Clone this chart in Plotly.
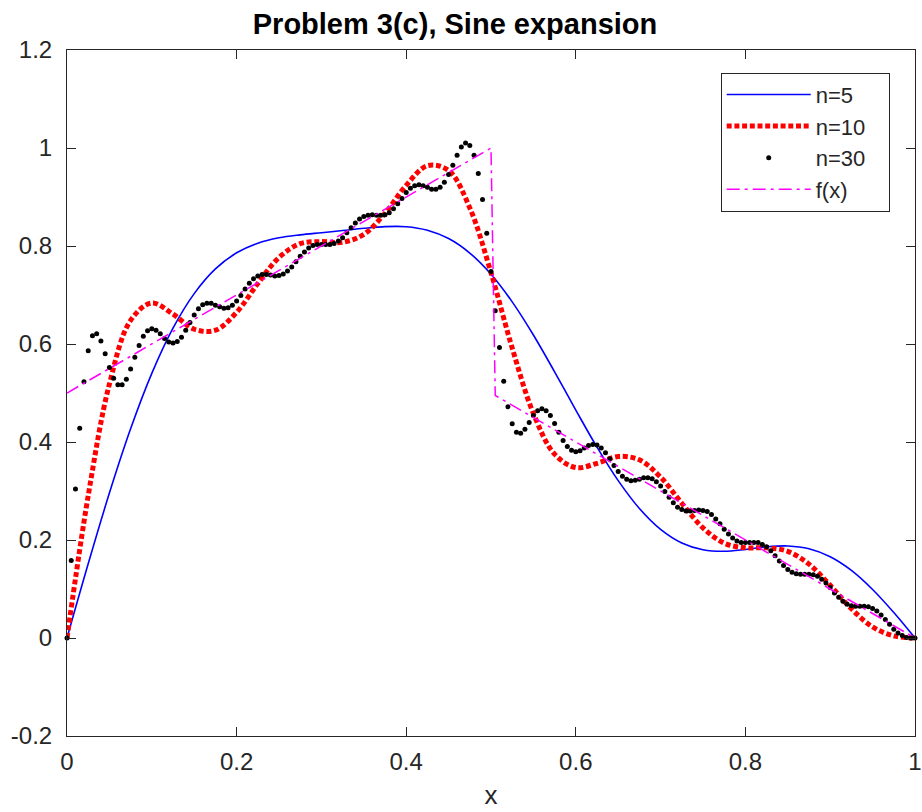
import plotly.graph_objects as go

# ---- data ----
x_lines = [round(i * 0.025, 3) for i in range(41)]
n5 = [0, 0.1515, 0.2958, 0.4269, 0.5400, 0.6323, 0.7028, 0.7532, 0.7861, 0.8058,
      0.8167, 0.8227, 0.8271, 0.8315, 0.8361, 0.8396, 0.8394, 0.8322, 0.8152, 0.7856,
      0.7424, 0.6860, 0.6184, 0.5432, 0.4652, 0.3894, 0.3211, 0.2643, 0.2217, 0.1939,
      0.1801, 0.1770, 0.1807, 0.1860, 0.1878, 0.1821, 0.1658, 0.1379, 0.0990, 0.0519, 0]
n10 = [0, 0.2903, 0.5183, 0.6482, 0.6835, 0.6610, 0.6301, 0.6281, 0.6646, 0.7233,
       0.7766, 0.8048, 0.8089, 0.8076, 0.8236, 0.8667, 0.9238, 0.9638, 0.9541, 0.8778,
       0.7456, 0.5918, 0.4583, 0.3752, 0.3478, 0.3565, 0.3704, 0.3636, 0.3283, 0.2750,
       0.2248, 0.1935, 0.1840, 0.1841, 0.1769, 0.1508, 0.1075, 0.0596, 0.0225, 0.0043, 0]

x_dots = [round(i * 0.005, 3) for i in range(201)]
n30 = [0.000, 0.158, 0.304, 0.428, 0.523, 0.586, 0.617, 0.621, 0.606, 0.580,
       0.552, 0.530, 0.517, 0.517, 0.528, 0.549, 0.573, 0.597, 0.616, 0.627,
       0.631, 0.628, 0.621, 0.611, 0.604, 0.602, 0.605, 0.614, 0.628, 0.644,
       0.659, 0.672, 0.680, 0.683, 0.683, 0.679, 0.676, 0.673, 0.674, 0.679,
       0.688, 0.699, 0.712, 0.724, 0.733, 0.739, 0.742, 0.742, 0.741, 0.739,
       0.740, 0.743, 0.749, 0.757, 0.768, 0.779, 0.788, 0.796, 0.801, 0.803,
       0.803, 0.803, 0.803, 0.805, 0.810, 0.817, 0.827, 0.837, 0.847, 0.855,
       0.860, 0.863, 0.864, 0.863, 0.863, 0.864, 0.868, 0.876, 0.886, 0.897,
       0.909, 0.918, 0.923, 0.925, 0.923, 0.920, 0.916, 0.916, 0.920, 0.930,
       0.946, 0.965, 0.985, 1.002, 1.010, 1.005, 0.985, 0.948, 0.895, 0.826,
       0.748, 0.668, 0.593, 0.524, 0.472, 0.437, 0.420, 0.418, 0.426, 0.440,
       0.454, 0.464, 0.468, 0.464, 0.454, 0.438, 0.420, 0.403, 0.391, 0.383,
       0.380, 0.382, 0.388, 0.393, 0.395, 0.394, 0.388, 0.378, 0.366, 0.352,
       0.340, 0.330, 0.324, 0.321, 0.322, 0.324, 0.327, 0.327, 0.325, 0.319,
       0.310, 0.299, 0.287, 0.276, 0.267, 0.262, 0.259, 0.259, 0.260, 0.261,
       0.260, 0.258, 0.252, 0.243, 0.233, 0.222, 0.212, 0.204, 0.198, 0.195,
       0.195, 0.195, 0.195, 0.195, 0.191, 0.186, 0.178, 0.168, 0.157, 0.148,
       0.140, 0.134, 0.131, 0.130, 0.130, 0.130, 0.129, 0.126, 0.120, 0.112,
       0.103, 0.092, 0.083, 0.075, 0.069, 0.066, 0.065, 0.065, 0.065, 0.064,
       0.060, 0.055, 0.047, 0.038, 0.028, 0.018, 0.010, 0.005, 0.001, 0.000,
       0.000]

f_x = [0.0, 0.5, 0.505, 1.0]
f_y = [0.5, 1.0, 0.495, 0.0]

x_ticks = [0, 0.2, 0.4, 0.6, 0.8, 1]
x_ticktext = ["0", "0.2", "0.4", "0.6", "0.8", "1"]
y_ticks = [-0.2, 0, 0.2, 0.4, 0.6, 0.8, 1, 1.2]
y_ticktext = ["-0.2", "0", "0.2", "0.4", "0.6", "0.8", "1", "1.2"]

AX = "#262626"
FONT = "Liberation Sans, Arial, Helvetica, sans-serif"
PAD = "&nbsp;&nbsp;&nbsp;"

fig = go.Figure()
fig.add_trace(go.Scatter(x=x_lines, y=n5, mode="lines", name="n=5" + PAD,
                         line=dict(color="#0000ff", width=1.6, shape="spline")))
fig.add_trace(go.Scatter(x=x_lines, y=n10, mode="lines", name="n=10" + PAD,
                         line=dict(color="#ff0000", width=5, shape="spline",
                                   dash="5px,2.7px")))
fig.add_trace(go.Scatter(x=x_dots, y=n30, mode="markers", name="n=30" + PAD,
                         marker=dict(color="#000000", size=5), cliponaxis=False))
fig.add_trace(go.Scatter(x=f_x, y=f_y, mode="lines", name="f(x)" + PAD,
                         line=dict(color="#ff00ff", width=1.5,
                                   dash="13px,5px,3px,5px")))

fig.update_layout(
    template="none",
    width=922, height=812,
    margin=dict(l=67, r=7, t=50, b=76, autoexpand=False),
    paper_bgcolor="white", plot_bgcolor="white",
    font=dict(family=FONT, color=AX),
    showlegend=True,
    title=dict(text="<b>Problem 3(c), Sine expansion</b>",
               font=dict(family=FONT, size=29, color="#000000"),
               x=455 / 922, xanchor="center", xref="container",
               y=1 - 24 / 812, yanchor="middle", yref="container"),
    xaxis=dict(range=[0, 1], tickvals=x_ticks, ticktext=x_ticktext,
               ticks="inside", ticklen=9, tickcolor=AX, tickwidth=1,
               showline=True, linecolor=AX, linewidth=1, mirror="ticks",
               showgrid=False, zeroline=False, automargin=False,
               ticklabeloverflow="allow",
               tickfont=dict(size=24, color=AX), ticklabelstandoff=4,
               title=dict(text="x", font=dict(size=26, color=AX), standoff=12)),
    yaxis=dict(range=[-0.2, 1.2], tickvals=y_ticks, ticktext=y_ticktext,
               ticks="inside", ticklen=9, tickcolor=AX, tickwidth=1,
               showline=True, linecolor=AX, linewidth=1, mirror="ticks",
               showgrid=False, zeroline=False, automargin=False,
               ticklabeloverflow="allow",
               tickfont=dict(size=24, color=AX), ticklabelstandoff=9),
    legend=dict(x=(720.7 - 67) / 848, y=(736 - 72.7) / 686,
                xanchor="left", yanchor="top",
                bordercolor=AX, borderwidth=1, bgcolor="white",
                font=dict(family=FONT, size=22, color=AX),
                itemwidth=84, tracegroupgap=0),
)

fig.write_html("out.html",
               config={"displayModeBar": False},
               post_script="document.body.style.margin='0';"
                           "document.body.style.overflow='hidden';")
